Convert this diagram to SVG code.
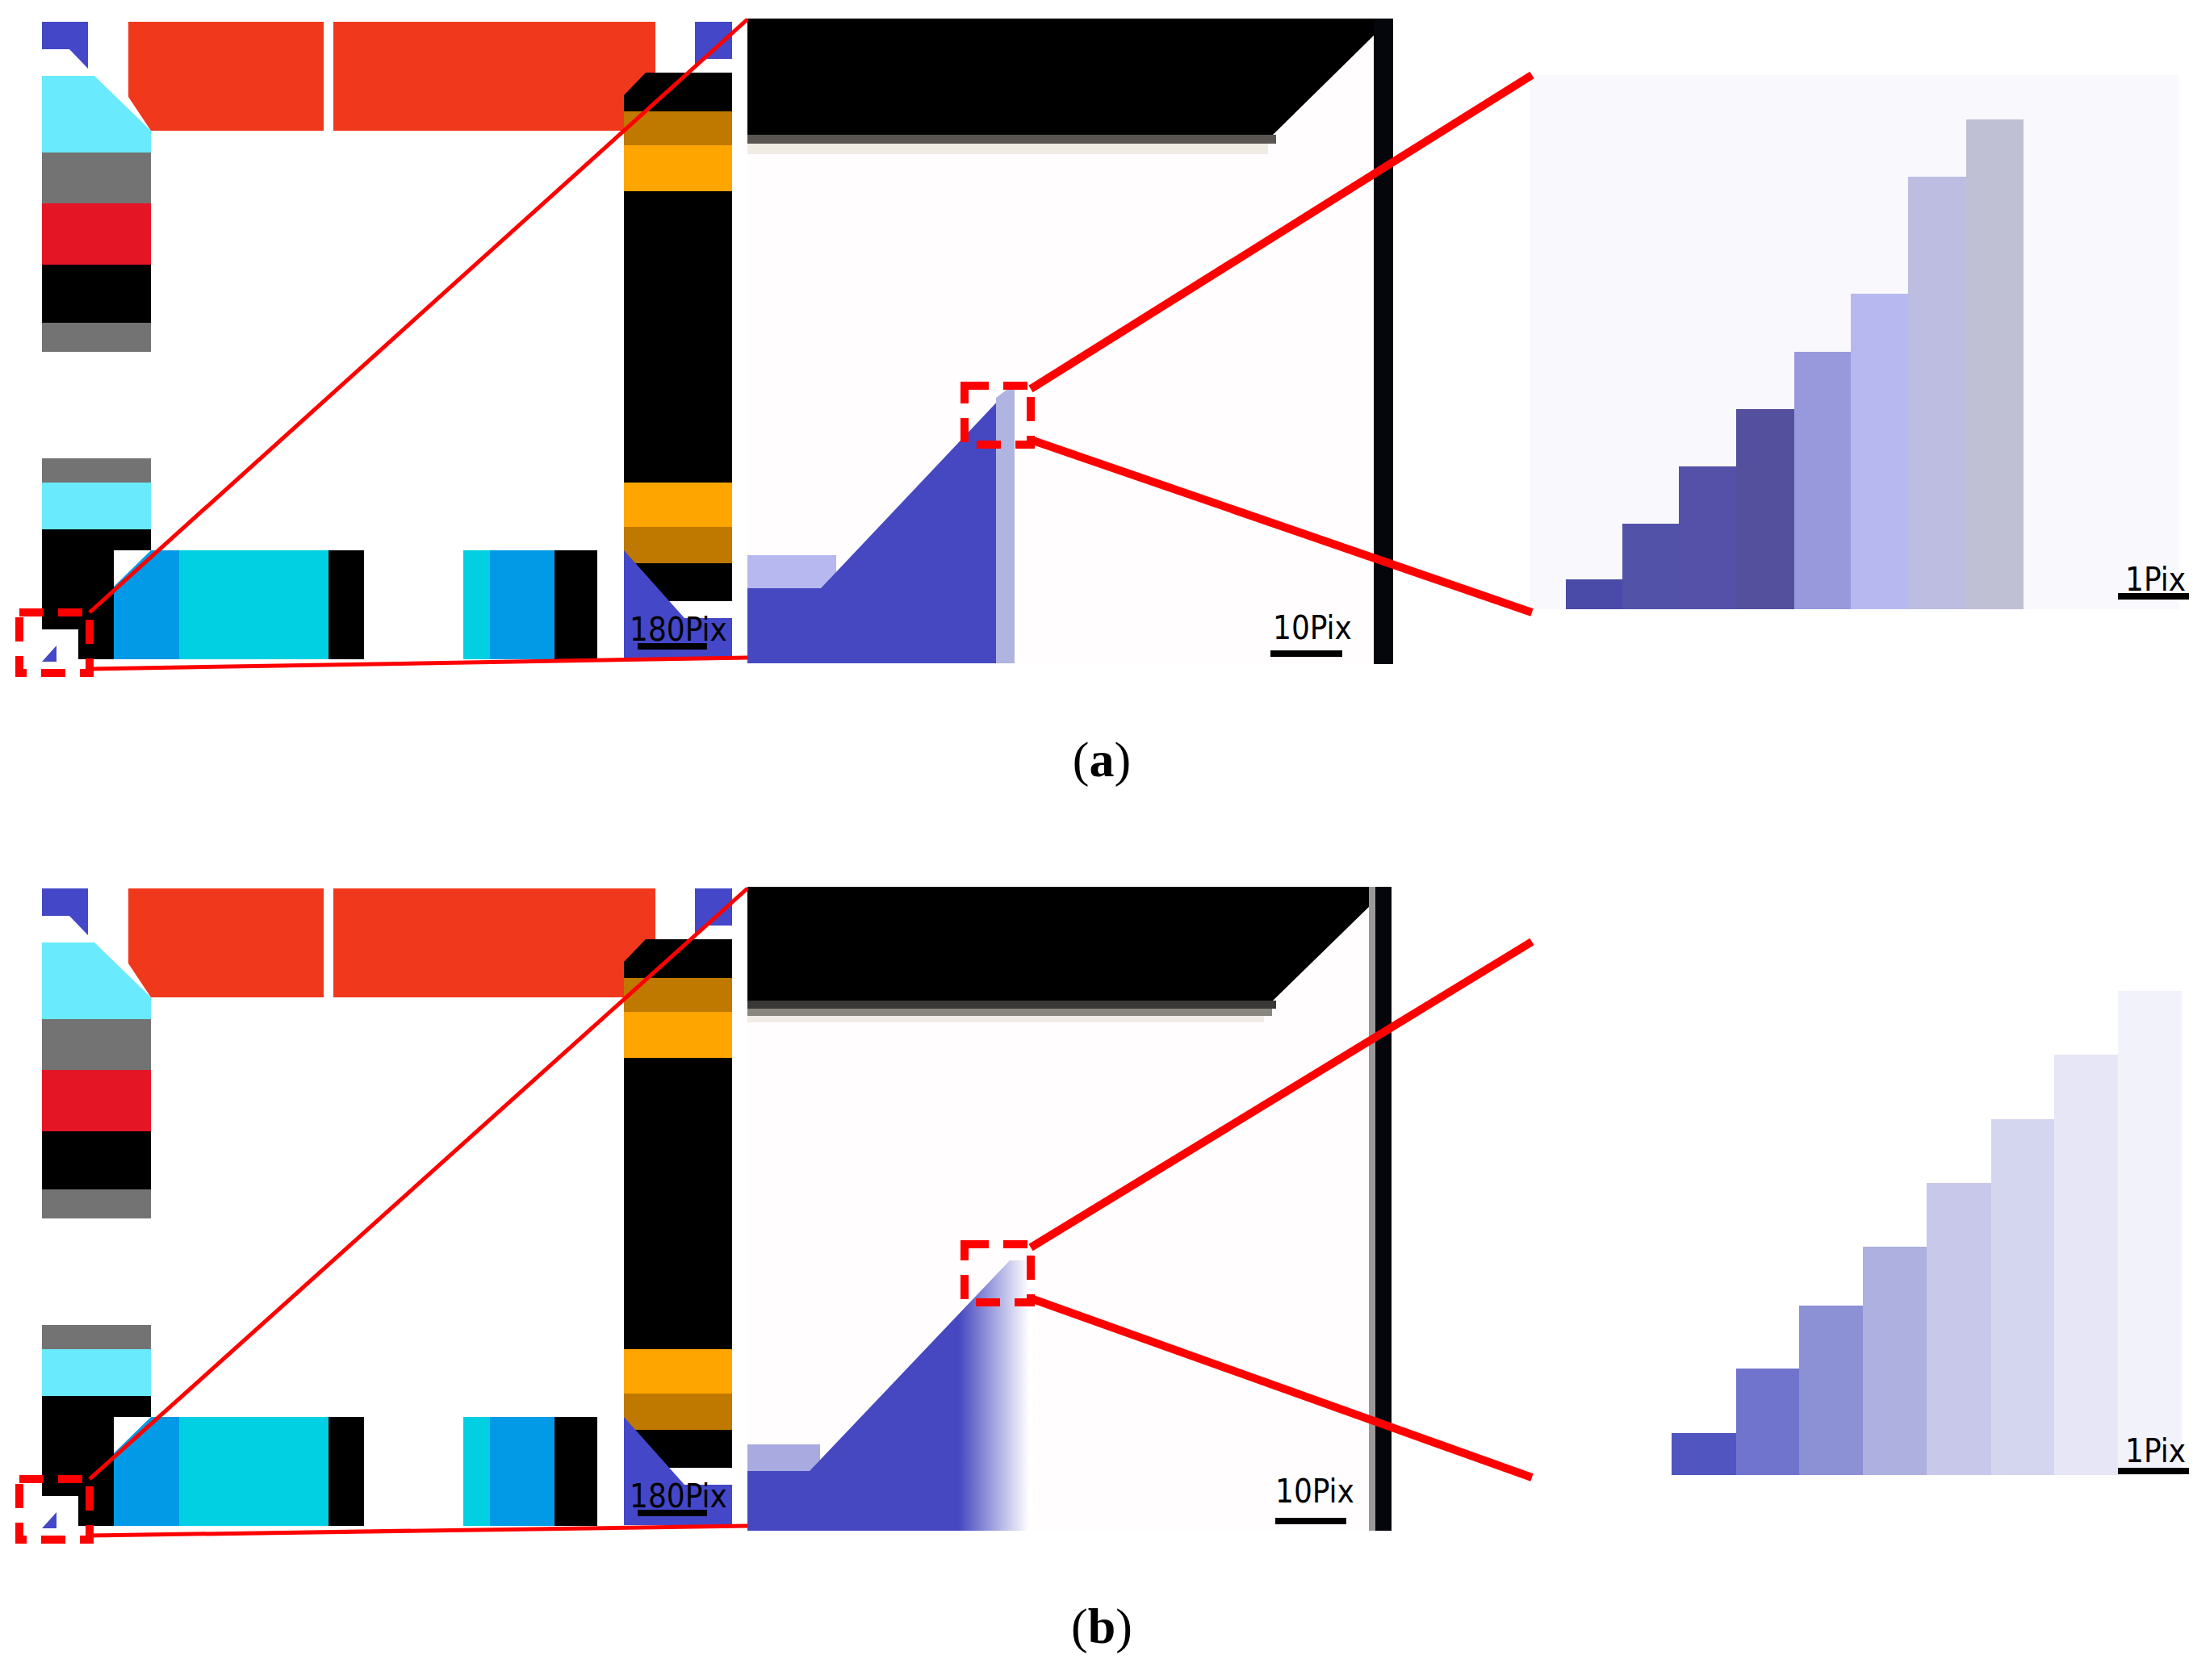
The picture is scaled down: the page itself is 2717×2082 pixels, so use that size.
<svg xmlns="http://www.w3.org/2000/svg" xmlns:xlink="http://www.w3.org/1999/xlink" width="2717" height="2082" viewBox="0 0 2717 2082">
<style>
.lbl{font-family:"DejaVu Sans Condensed","Liberation Sans",sans-serif;font-size:40px;fill:#000;font-stretch:condensed}
.cap{font-family:"Liberation Serif",serif;font-size:62px;fill:#000}
.dash{fill:none;stroke:#ff0000;stroke-width:10;stroke-dasharray:30 18}
.thin{stroke:#ff0000;stroke-width:5}
.thick{stroke:#ff0000;stroke-width:10}
</style>
<defs>
<linearGradient id="fadeB" x1="0" x2="1" y1="0" y2="0">
<stop offset="0" stop-color="#4548c0"/><stop offset="0.75" stop-color="#4548c0"/><stop offset="1" stop-color="#ffffff"/>
</linearGradient>
<g id="left">
<polygon points="52,27 109,27 109,85 86,61 52,61" fill="#4448c8"/>
<polygon points="52,94 117,94 187,162 187,189 52,189" fill="#6aeafd"/>
<rect x="52" y="189" width="135" height="63" fill="#737373"/>
<rect x="52" y="252" width="135" height="76" fill="#e41525"/>
<rect x="52" y="328" width="135" height="72" fill="#000"/>
<rect x="52" y="400" width="135" height="36" fill="#737373"/>
<polygon points="159,27 401,27 401,162 187,162 159,120" fill="#f0391c"/>
<rect x="413" y="27" width="399" height="135" fill="#f0391c"/>
<polygon points="861,27 907,27 907,73 875,73 861,85" fill="#4448c8"/>
<rect x="52" y="568" width="135" height="30" fill="#737373"/>
<rect x="52" y="598" width="135" height="58" fill="#6aeafd"/>
<rect x="52" y="656" width="135" height="26" fill="#000"/>
<rect x="52" y="682" width="89" height="135" fill="#000"/>
<polygon points="187,682 222,682 222,817 141,817 141,727" fill="#029ae6"/>
<rect x="222" y="682" width="185" height="135" fill="#00d0e2"/>
<rect x="407" y="682" width="44" height="135" fill="#000"/>
<rect x="574" y="682" width="33" height="135" fill="#00d0e2"/>
<rect x="607" y="682" width="80" height="135" fill="#029ae6"/>
<rect x="687" y="682" width="53" height="135" fill="#000"/>
<polygon points="800,90 907,90 907,138 773,138 773,118" fill="#000"/>
<rect x="773" y="138" width="134" height="42" fill="#bf7800"/>
<rect x="773" y="180" width="134" height="57" fill="#ffa500"/>
<rect x="773" y="237" width="134" height="361" fill="#000"/>
<rect x="773" y="598" width="134" height="55" fill="#ffa500"/>
<rect x="773" y="653" width="134" height="45" fill="#bf7800"/>
<rect x="773" y="698" width="134" height="47" fill="#000"/>
<polygon points="773,682 848,766 907,766 907,816 773,816" fill="#4448c8"/>
<text class="lbl" x="780" y="794">180Pix</text>
<rect x="790" y="797" width="86" height="8" fill="#000"/>
<rect x="52" y="780" width="45" height="40" fill="#fff"/>
<polygon points="52,820 70,800 70,820" fill="#4448c8"/>
<rect x="24" y="759" width="87" height="75" class="dash"/>
</g>
</defs>
<g id="panel-a-left"><use xlink:href="#left"/></g>
<g id="panel-b-left"><use xlink:href="#left" y="1074"/></g>
<g id="panel-a-mid">
<rect x="926" y="23" width="800" height="800" fill="#fffdfe"/>
<polygon points="926,23 1702,23 1702,44 1577,167 926,167" fill="#000"/>
<rect x="926" y="167" width="655" height="11" fill="#5a5550"/>
<rect x="926" y="178" width="645" height="13" fill="#f0ece4"/>
<rect x="926" y="688" width="110" height="41" fill="#b8b8f0"/>
<polygon points="926,729 1017,729 1240,493 1234,493 1234,822 926,822" fill="#4548c0"/>
<polygon points="1234,493 1251,480 1257,480 1257,822 1234,822" fill="#b0b4e0"/>
<rect x="1702" y="23" width="24" height="800" fill="#05050c"/>
<text class="lbl" x="1577" y="792">10Pix</text>
<rect x="1574" y="806" width="89" height="8" fill="#000"/>
<rect x="1195" y="478" width="82" height="73" class="dash"/>
</g>
<g id="panel-a-right">
<rect x="1895" y="93" width="805" height="662" fill="#f8f8fd"/>
<rect x="1940" y="718" width="70" height="37" fill="#4a4aa8"/>
<rect x="2010" y="649" width="70" height="106" fill="#5252a8"/>
<rect x="2080" y="578" width="71" height="177" fill="#5550a8"/>
<rect x="2151" y="507" width="72" height="248" fill="#55509e"/>
<rect x="2223" y="436" width="70" height="319" fill="#9898dc"/>
<rect x="2293" y="364" width="71" height="391" fill="#b8b8f0"/>
<rect x="2364" y="219" width="72" height="536" fill="#bcbde0"/>
<rect x="2436" y="148" width="71" height="607" fill="#c0c0d4"/>
<text class="lbl" x="2633" y="732">1Pix</text>
<rect x="2624" y="735" width="88" height="8" fill="#000"/>
</g>
<g id="panel-b-mid">
<rect x="926" y="1099" width="800" height="798" fill="#fffdfe"/>
<polygon points="926,1099 1702,1099 1702,1118 1577,1240 926,1240" fill="#000"/>
<rect x="926" y="1240" width="655" height="10" fill="#3a3836"/>
<rect x="926" y="1250" width="650" height="9" fill="#8a8680"/>
<rect x="926" y="1259" width="640" height="8" fill="#f0ebe4"/>
<rect x="926" y="1790" width="90" height="33" fill="#a8aae0"/>
<polygon points="926,1823 1003,1823 1251,1562 1275,1562 1275,1897 926,1897" fill="url(#fadeB)"/>
<rect x="1696" y="1099" width="8" height="798" fill="#999"/>
<rect x="1704" y="1099" width="20" height="798" fill="#05050c"/>
<text class="lbl" x="1580" y="1862">10Pix</text>
<rect x="1580" y="1881" width="88" height="8" fill="#000"/>
<rect x="1195" y="1542" width="82" height="72" class="dash"/>
</g>
<g id="panel-b-right">
<rect x="2071" y="1776" width="80" height="52" fill="#5055c0"/>
<rect x="2151" y="1696" width="78" height="132" fill="#7074cc"/>
<rect x="2229" y="1618" width="79" height="210" fill="#8c90d4"/>
<rect x="2308" y="1545" width="79" height="283" fill="#aeb0e0"/>
<rect x="2387" y="1466" width="80" height="362" fill="#c8c8ea"/>
<rect x="2467" y="1387" width="78" height="441" fill="#d4d6f0"/>
<rect x="2545" y="1307" width="79" height="521" fill="#e6e6f6"/>
<rect x="2624" y="1228" width="79" height="600" fill="#f2f2fa"/>
<text class="lbl" x="2633" y="1812">1Pix</text>
<rect x="2624" y="1819" width="88" height="8" fill="#000"/>
</g>
<g id="connectors">
<line class="thin" x1="111" y1="759" x2="926" y2="24"/>
<line class="thin" x1="111" y1="829" x2="926" y2="815"/>
<line class="thin" x1="111" y1="1833" x2="926" y2="1101"/>
<line class="thin" x1="111" y1="1903" x2="926" y2="1891"/>
<line class="thick" x1="1277" y1="482" x2="1898" y2="93"/>
<line class="thick" x1="1277" y1="545" x2="1898" y2="759"/>
<line class="thick" x1="1277" y1="1546" x2="1898" y2="1167"/>
<line class="thick" x1="1277" y1="1609" x2="1898" y2="1831"/>
</g>
<text class="cap" x="1365" y="962" text-anchor="middle">(<tspan font-weight="bold">a</tspan>)</text>
<text class="cap" x="1365" y="2036" text-anchor="middle">(<tspan font-weight="bold">b</tspan>)</text>
</svg>
